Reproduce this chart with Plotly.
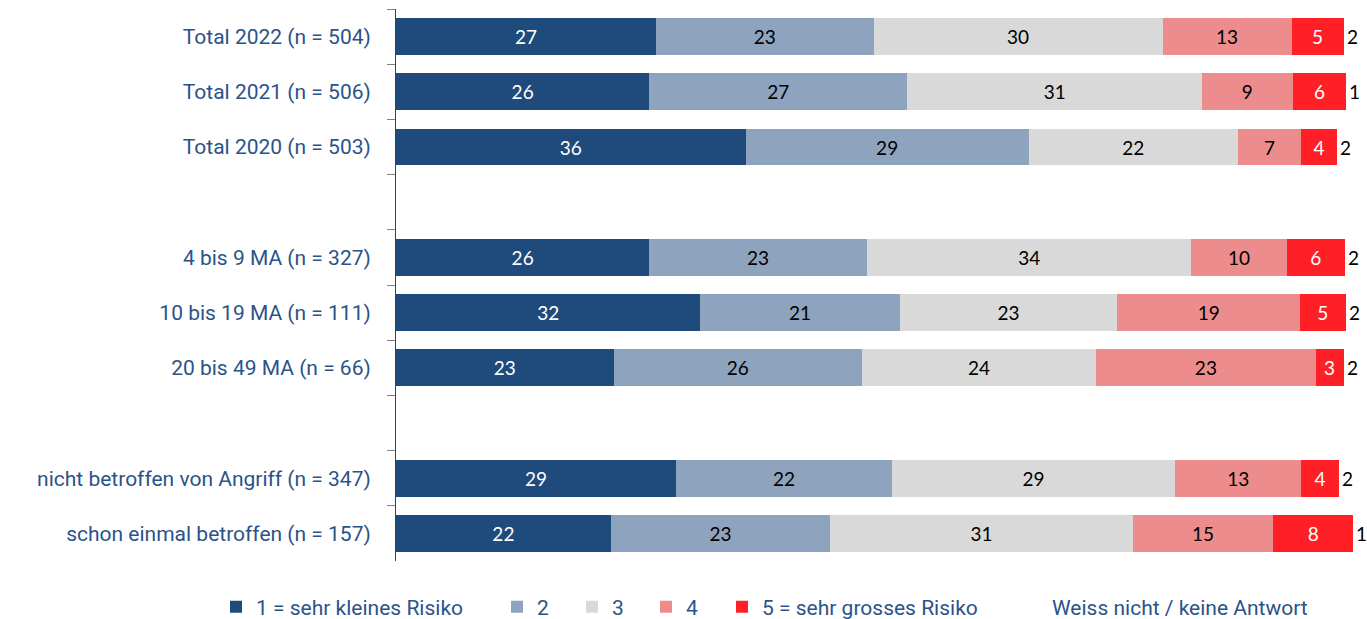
import plotly.graph_objects as go

categories = [
    "Total 2022 (n = 504)",
    "Total 2021 (n = 506)",
    "Total 2020 (n = 503)",
    "4 bis 9 MA (n = 327)",
    "10 bis 19 MA (n = 111)",
    "20 bis 49 MA (n = 66)",
    "nicht betroffen von Angriff (n = 347)",
    "schon einmal betroffen (n = 157)",
]

series_names = [
    "1 = sehr kleines Risiko",
    "2",
    "3",
    "4",
    "5 = sehr grosses Risiko",
    "Weiss nicht / keine Antwort",
]

risk_1 = [27.0, 26.3, 36.3, 26.3, 31.6, 22.6, 29.1, 22.3]
risk_2 = [22.6, 26.8, 29.4, 22.6, 20.7, 25.8, 22.4, 22.8]
risk_3 = [30.0, 30.6, 21.7, 33.7, 22.6, 24.3, 29.4, 31.4]
risk_4 = [13.4, 9.4, 6.6, 9.9, 19.0, 22.8, 13.1, 14.6]
risk_5 = [5.4, 5.6, 3.7, 6.0, 4.7, 2.9, 3.9, 8.3]
weiss_nicht = [1.6, 1.2, 2.3, 1.6, 1.6, 1.6, 2.1, 0.6]

colors = ["#1F4A7C", "#8DA3BE", "#D9D9D9", "#EC8C8C", "#FF1F26", "rgba(0,0,0,0)"]
text_colors = ["white", "black", "black", "black", "white", "black"]

# legend entry left edges in pixels
legend_left_px = [216, 497, 572, 646, 722, 1012]

slot_order = categories[:3] + [" "] + categories[3:6] + ["  "] + categories[6:]

FIG_W, FIG_H = 1367, 619


def expand(vals):
    m = dict(zip(categories, vals))
    return [m.get(c) for c in slot_order]


label_font = dict(family="Roboto", size=21, color="#2A5389")
value_font = dict(family="Lato", size=19)

fig = go.Figure()
all_series = [risk_1, risk_2, risk_3, risk_4, risk_5]
legend_ids = ["legend"] + [f"legend{i}" for i in range(2, 7)]
for i, (name, vals, col, tcol) in enumerate(zip(series_names[:5], all_series, colors[:5], text_colors[:5])):
    fig.add_trace(go.Bar(
        name=name, y=slot_order, x=expand(vals), orientation="h",
        marker=dict(color=col, line=dict(width=0)),
        texttemplate="%{x:.0f}", textposition="inside", insidetextanchor="middle",
        textangle=0, constraintext="none",
        textfont=dict(value_font, color=tcol),
        hoverinfo="skip", legend=legend_ids[i],
    ))

# transparent "Weiss nicht" bar (legend entry)
fig.add_trace(go.Bar(
    name=series_names[5], y=slot_order, x=expand(weiss_nicht), orientation="h",
    marker=dict(color=colors[5], line=dict(width=0)), hoverinfo="skip",
    legend=legend_ids[5],
))

# "Weiss nicht" values written just right of the coloured bars
ends = [a + b + c + d + e for a, b, c, d, e in zip(*all_series)]
for cat, end, w in zip(categories, ends, weiss_nicht):
    fig.add_annotation(
        x=end, y=cat, xref="x", yref="y", text=f"{w:.0f}",
        showarrow=False, xanchor="left", yanchor="middle", xshift=1,
        font=dict(value_font, color="black"),
    )

legend_common = dict(
    orientation="h", xref="container", yref="container",
    y=1 - 607 / FIG_H, yanchor="middle", xanchor="left",
    font=label_font, bgcolor="rgba(0,0,0,0)",
)
legend_layout = {}
for lid, px in zip(legend_ids, legend_left_px):
    legend_layout[lid] = dict(legend_common, x=px / FIG_W)

fig.update_layout(
    width=FIG_W, height=FIG_H,
    barmode="stack", bargap=0.33,
    plot_bgcolor="white", paper_bgcolor="white",
    margin=dict(l=396, r=8, t=9, b=58),
    xaxis=dict(range=[0, 100], visible=False, fixedrange=True),
    yaxis=dict(
        categoryorder="array", categoryarray=slot_order, autorange="reversed",
        tickson="boundaries", ticks="outside", ticklen=8, tickcolor="#808080",
        showline=True, linecolor="#404040", linewidth=1, showgrid=False,
        tickfont=label_font, ticklabelstandoff=20, fixedrange=True,
    ),
    showlegend=True,
    **legend_layout,
)

# remove the default page margin so the 1367x619 figure fills the window exactly
fig.write_html(
    "out.html",
    config={"displayModeBar": False, "staticPlot": False},
    post_script="document.body.style.margin='0';document.body.style.overflow='hidden';",
)
